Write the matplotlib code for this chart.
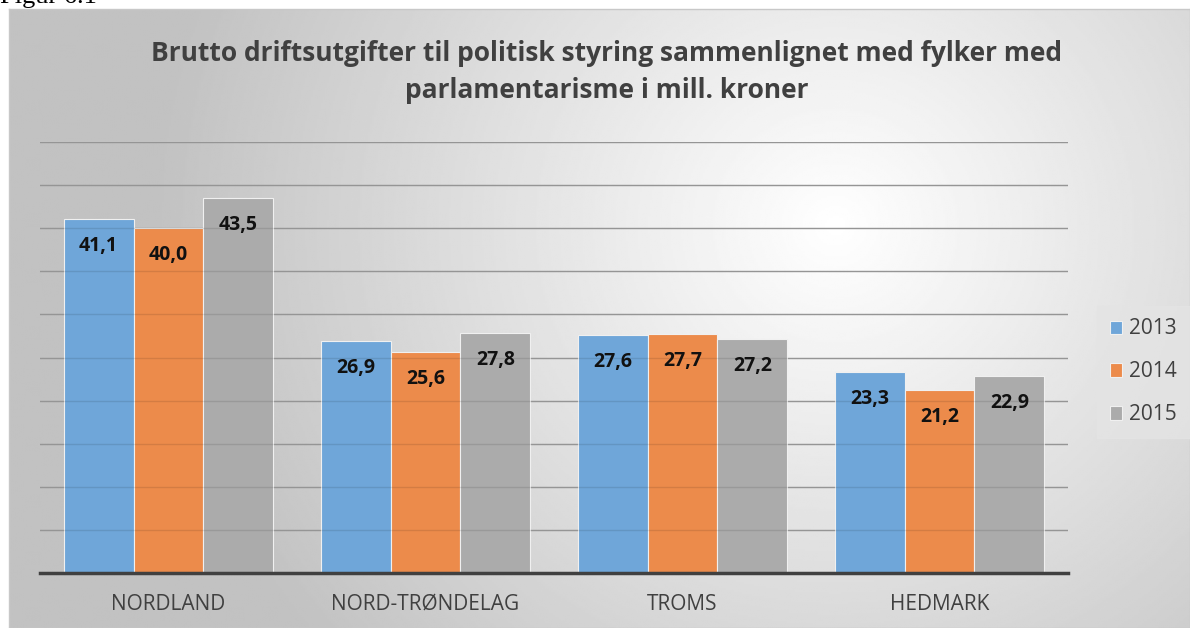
import numpy as np
import matplotlib.pyplot as plt

categories = ["NORDLAND", "NORD-TRØNDELAG", "TROMS", "HEDMARK"]
years = ["2013", "2014", "2015"]
v2013 = [41.1, 26.9, 27.6, 23.3]
v2014 = [40.0, 25.6, 27.7, 21.2]
v2015 = [43.5, 27.8, 27.2, 22.9]
colors = ["#6FA6D9", "#EC8B4B", "#ABABAB"]

W, H = 1190, 628
fig = plt.figure(figsize=(W / 100, H / 100), dpi=100)

# radial gray background of the chart frame
bg = fig.add_axes([9 / W, 0, 1 - 9 / W, 1 - 9 / H])
yy, xx = np.mgrid[0:300, 0:600]
nx = xx / 599.0
ny = yy / 299.0
d = np.sqrt((nx - 0.70) ** 2 + ((ny - 0.35) * 0.55) ** 2)
shade = np.clip(1.0 - 0.30 * d / 0.72, 0.76, 1.0)
bg.imshow(shade, cmap="gray", vmin=0, vmax=1, aspect="auto",
          extent=[0, 1, 0, 1], origin="upper", interpolation="bilinear")
bg.set_xlim(0, 1)
bg.set_ylim(0, 1)
bg.set_xticks([])
bg.set_yticks([])
for s in bg.spines.values():
    s.set_color("#c8c8c8")
    s.set_linewidth(1)

# caption above the chart, cut off by the page edge as in the source
fig.text(0.0, 1 - 3 / H, "Figur 6.1", family="Liberation Serif", fontsize=19,
         va="baseline", ha="left", color="black")

ax = fig.add_axes([40 / W, (H - 573) / H, (1068 - 40) / W, (573 - 142) / H])
ax.patch.set_alpha(0)
x = np.arange(len(categories))
w = 0.272
series = [v2013, v2014, v2015]
for i, vals in enumerate(series):
    bars = ax.bar(x + (i - 1) * w, vals, width=w, color=colors[i],
                  edgecolor="#f0f0f0", linewidth=0.8, label=years[i], zorder=3)
    for b, v in zip(bars, vals):
        ax.annotate(f"{v:.1f}".replace(".", ","),
                    (b.get_x() + b.get_width() / 2, v),
                    xytext=(0, -19.5), textcoords="offset points",
                    ha="center", va="center", fontsize=14, fontweight="bold",
                    family="Open Sans", color="#111111", zorder=6)

ax.set_xlim(-0.5, 3.5)
ax.set_ylim(0, 50)
# gridlines: full under bars, faint over bars
for g in np.arange(5, 51, 5):
    ax.axhline(g, color="#a6a6a6", linewidth=1, zorder=1)
    ax.axhline(g, color="#000000", alpha=0.10, linewidth=1, zorder=4)
ax.set_yticks([])
ax.set_xticks(x)
ax.set_xticklabels(categories, family="Open Sans", fontsize=15, color="#404040")
ax.tick_params(axis="x", length=0, pad=15)
for s in ["top", "right", "left"]:
    ax.spines[s].set_visible(False)
ax.spines["bottom"].set_color("#404040")
ax.spines["bottom"].set_linewidth(2.5)
ax.spines["bottom"].set_zorder(5)

fig.text(0.51, 0.885,
         "Brutto driftsutgifter til politisk styring sammenlignet med fylker med\nparlamentarisme i mill. kroner",
         ha="center", va="center", fontsize=19, fontweight="bold",
         family="Open Sans", color="#404040", linespacing=1.45)

leg = fig.legend(loc="upper left", bbox_to_anchor=(1097 / W, (H - 306) / H),
                 frameon=True, fancybox=False, fontsize=15,
                 handlelength=0.6, handleheight=0.6, handletextpad=0.35,
                 labelspacing=1.05, borderpad=0.6, borderaxespad=0)
leg.get_frame().set_facecolor("#e4e4e4")
leg.get_frame().set_edgecolor("#e4e4e4")
for t in leg.get_texts():
    t.set_color("#404040")
    t.set_family("Open Sans")

fig.savefig("out.png", dpi=100)
